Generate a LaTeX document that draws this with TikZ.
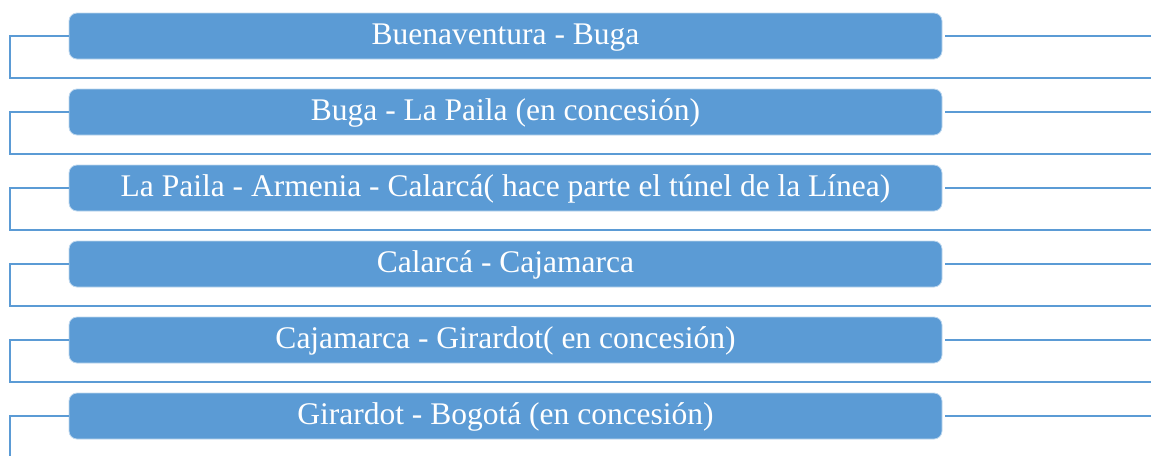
\documentclass[tikz,border=0pt]{standalone}
\usepackage{fontspec}
\setmainfont{Liberation Serif}
\usepackage{xcolor}
\usepackage{tikz}

\definecolor{tramo}{HTML}{5B9BD5}
\tikzset{
  tramobox/.style={rectangle, rounded corners=8pt, fill=tramo, draw=tramo!40,
    line width=0.8pt, text=white, minimum width=873pt, minimum height=46pt,
    inner sep=0pt, text height=23pt, text depth=6pt,
    font=\fontsize{31.5}{33}\selectfont},
  enlace/.style={draw=tramo, line width=2.2pt}
}

\begin{document}
\begin{tikzpicture}[x=1pt,y=-1pt]
    % Fix the page to the size of the picture
    \useasboundingbox (0,0) rectangle (1151,456);
    \coordinate (edge) at (1151,0);
    % Draw the six road sections, one under the other
    \foreach \tramo [count=\i] in {Buenaventura - Buga,
        Buga - La Paila (en concesión),
        La Paila - Armenia - Calarcá( hace parte el túnel de la Línea),
        Calarcá - Cajamarca,
        Cajamarca - Girardot( en concesión),
        Girardot - Bogotá (en concesión)}
      \node[tramobox] (b\i) at (505.5,{36+76*(\i-1)}) {\tramo};
    % Left brackets closing under each section, and lines to the right
    \foreach \i in {1,...,5} {
      \draw[enlace] (b\i.west) -| ++(-59,42) coordinate (k\i) -- (k\i -| edge);
      \draw[enlace] ([xshift=3pt]b\i.east) -- (b\i.east -| edge);
    }
    % The last bracket runs off the bottom
    \draw[enlace] (b6.west) -| ++(-59,40) coordinate (k6);
    \draw[enlace] ([xshift=3pt]b6.east) -- (b6.east -| edge);
\end{tikzpicture}
\end{document}
